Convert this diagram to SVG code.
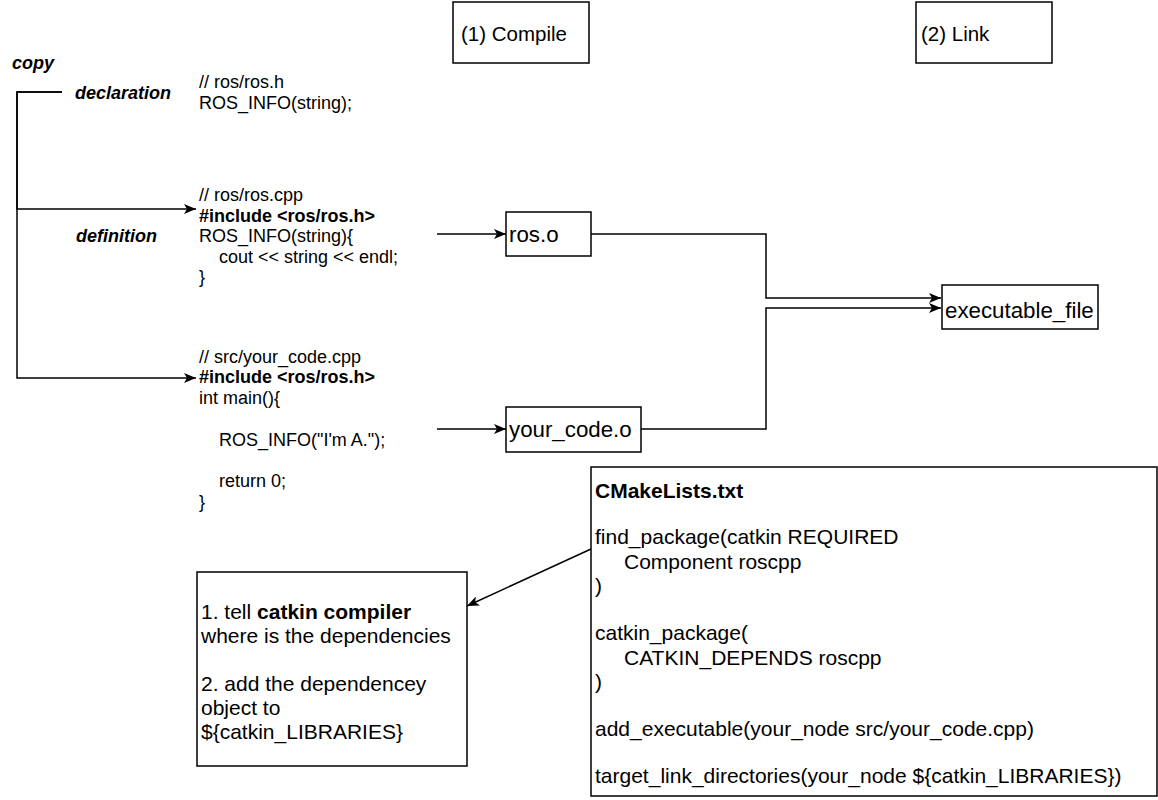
<svg xmlns="http://www.w3.org/2000/svg" width="1158" height="800" viewBox="0 0 1158 800">
<style>
text{font-family:"Liberation Sans",Arial,Helvetica,sans-serif;fill:#000}
.code{font-size:18px}
.lbl{font-size:18px;font-weight:bold;font-style:italic}
.hdr{font-size:20.5px}
.big{font-size:21px}
.node{font-size:22.3px}
.b{font-weight:bold}
.box{fill:#fff;stroke:#000;stroke-width:1.5}
.edge{fill:none;stroke:#000;stroke-width:1.5}
</style>
<defs>
<marker id="arr" viewBox="0 0 12 10" refX="12" refY="5" markerWidth="12" markerHeight="10" markerUnits="userSpaceOnUse" orient="auto">
<path d="M0,0 L12,5 L0,10 L3,5 z" fill="#000"/>
</marker>
</defs>
<rect width="1158" height="800" fill="#fff"/>

<g id="connectors">
<path class="edge" d="M62,92 H17 V209 H196" marker-end="url(#arr)"/>
<path class="edge" d="M62,92 H17 V378 H196" marker-end="url(#arr)"/>
<path class="edge" d="M437,234 H506" marker-end="url(#arr)"/>
<path class="edge" d="M437,429 H506" marker-end="url(#arr)"/>
<path class="edge" d="M591,234 H766 V298 H941" marker-end="url(#arr)"/>
<path class="edge" d="M641,429 H766 V308 H941" marker-end="url(#arr)"/>
<path class="edge" d="M591,549 L467,606" marker-end="url(#arr)"/>
</g>

<g id="compile">
<rect class="box" x="453" y="2" width="136" height="61"/>
<text class="hdr" x="461" y="41">(1) Compile</text>
</g>
<g id="link">
<rect class="box" x="916" y="2" width="136" height="61"/>
<text class="hdr" x="921" y="41">(2) Link</text>
</g>

<g id="copy"><text class="lbl" x="12" y="69">copy</text></g>
<g id="declaration"><text class="lbl" x="75" y="99">declaration</text></g>
<g id="definition"><text class="lbl" x="76" y="242">definition</text></g>

<g id="ros_h">
<text class="code" x="199" y="88">// ros/ros.h</text>
<text class="code" x="199" y="108.5">ROS_INFO(string);</text>
</g>

<g id="ros_cpp">
<text class="code" x="199" y="201">// ros/ros.cpp</text>
<text class="code b" x="199" y="221.5">#include &lt;ros/ros.h&gt;</text>
<text class="code" x="199" y="242">ROS_INFO(string){</text>
<text class="code" x="219" y="262.5">cout &lt;&lt; string &lt;&lt; endl;</text>
<text class="code" x="199" y="283">}</text>
</g>

<g id="your_code_cpp">
<text class="code" x="199" y="362.5">// src/your_code.cpp</text>
<text class="code b" x="199" y="383.3">#include &lt;ros/ros.h&gt;</text>
<text class="code" x="199" y="404">int main(){</text>
<text class="code" x="219" y="445.6">ROS_INFO("I'm A.");</text>
<text class="code" x="219" y="487.2">return 0;</text>
<text class="code" x="199" y="508">}</text>
</g>

<g id="ros_o">
<rect class="box" x="506" y="212" width="85" height="44"/>
<text class="node" x="509" y="242">ros.o</text>
</g>
<g id="your_code_o">
<rect class="box" x="506" y="407" width="135" height="45"/>
<text class="node" x="509" y="437">your_code.o</text>
</g>
<g id="executable_file">
<rect class="box" x="942" y="285" width="156" height="44"/>
<text class="node" x="945" y="318">executable_file</text>
</g>

<g id="cmake">
<rect class="box" x="591" y="467" width="566" height="329"/>
<text class="big b" x="595" y="498">CMakeLists.txt</text>
<text class="big" x="595" y="544">find_package(catkin REQUIRED</text>
<text class="big" x="624" y="569">Component roscpp</text>
<text class="big" x="595" y="593">)</text>
<text class="big" x="595" y="640">catkin_package(</text>
<text class="big" x="624" y="665">CATKIN_DEPENDS roscpp</text>
<text class="big" x="595" y="689">)</text>
<text class="big" x="595" y="736">add_executable(your_node src/your_code.cpp)</text>
<text class="big" x="595" y="783">target_link_directories(your_node ${catkin_LIBRARIES})</text>
</g>

<g id="note">
<rect class="box" x="197" y="572" width="270" height="194"/>
<text class="big" x="201" y="619">1. tell <tspan class="b">catkin compiler</tspan></text>
<text class="big" x="201" y="643">where is the dependencies</text>
<text class="big" x="201" y="691">2. add the dependencey</text>
<text class="big" x="201" y="715">object to</text>
<text class="big" x="201" y="739">${catkin_LIBRARIES}</text>
</g>
</svg>
